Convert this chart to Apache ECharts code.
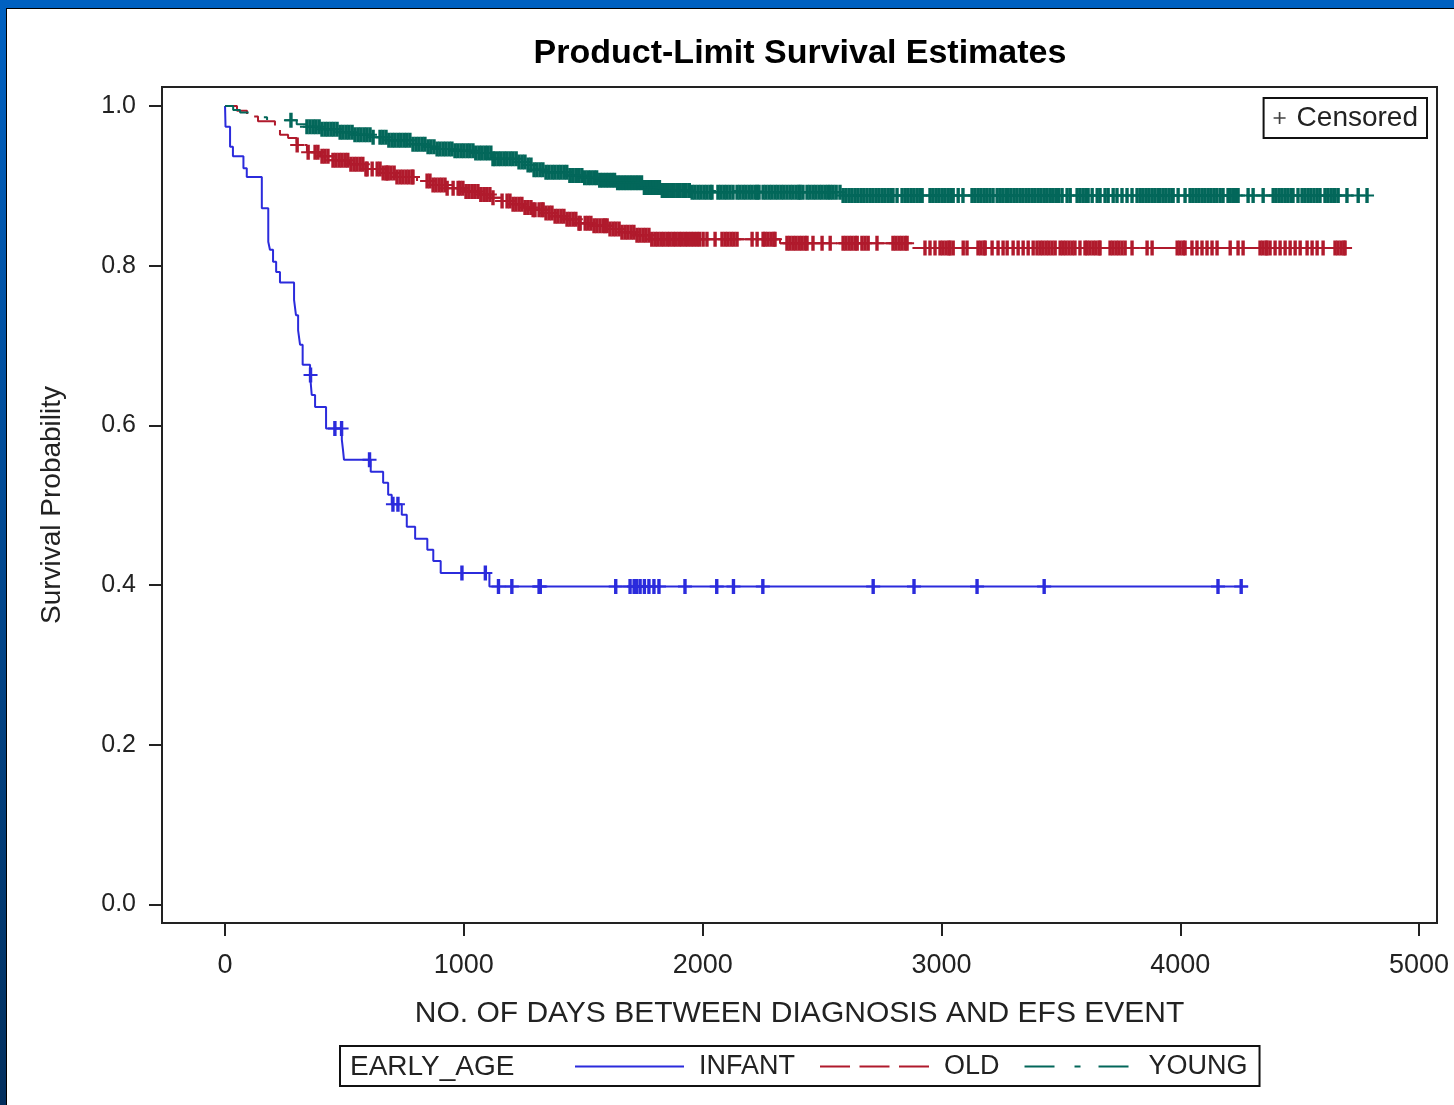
<!DOCTYPE html>
<html>
<head>
<meta charset="utf-8">
<title>Product-Limit Survival Estimates</title>
<script src="https://cdn.jsdelivr.net/npm/echarts@6/dist/echarts.min.js"></script>
<style>
html, body { margin: 0; padding: 0; background: #fff; }
#chart { width: 1454px; height: 1105px; }
</style>
</head>
<body>
<div id="chart"></div>
<script>
// 生存曲线: [天数, 生存概率]
var infantSteps = [[0,1.0],[2,0.974],[21,0.949],[33,0.937],[77,0.922],[91,0.911],[154,0.872],[181,0.830],[188,0.820],[201,0.805],[214,0.792],[230,0.779],[289,0.757],[297,0.738],[306,0.719],[314,0.701],[325,0.676],[356,0.663],[363,0.638],[377,0.623],[423,0.596],[489,0.582],[494,0.569],[498,0.557],[610,0.542],[662,0.528],[683,0.513],[698,0.501],[740,0.488],[761,0.473],[796,0.458],[847,0.444],[872,0.430],[903,0.415],[1107,0.398],[4284,0.398]];
var oldSteps = [[0,1.0],[50,0.994],[92,0.987],[138,0.981],[209,0.972],[230,0.964],[264,0.960],[300,0.951],[343,0.942],[398,0.937],[452,0.932],[523,0.927],[580,0.921],[650,0.916],[712,0.911],[804,0.906],[871,0.901],[930,0.897],[1000,0.893],[1060,0.889],[1110,0.885],[1160,0.881],[1206,0.877],[1250,0.873],[1290,0.870],[1340,0.866],[1382,0.862],[1430,0.858],[1474,0.853],[1540,0.850],[1612,0.846],[1660,0.842],[1720,0.838],[1780,0.833],[2324,0.828],[2869,0.822],[4719,0.822]];
var youngSteps = [[0,1.0],[34,0.995],[63,0.992],[117,0.986],[176,0.982],[300,0.977],[343,0.974],[398,0.971],[473,0.967],[540,0.964],[620,0.961],[680,0.957],[787,0.952],[850,0.949],[888,0.946],[960,0.944],[1040,0.941],[1122,0.934],[1223,0.930],[1260,0.926],[1290,0.920],[1340,0.917],[1432,0.913],[1500,0.910],[1560,0.907],[1642,0.904],[1750,0.898],[1822,0.894],[1947,0.892],[2588,0.888],[4782,0.888]];

// 删失时间 (天)
var infantCensored = [358,460,488,605,703,724,992,1090,1145,1201,1315,1320,1636,1696,1713,1723,1738,1756,1775,1796,1817,1926,2059,2129,2252,2714,2885,3149,3430,4158,4255];
var oldCensored = [302,348,377,389,406,418,431,452,464,477,489,502,514,527,540,552,565,577,590,595,616,637,649,662,674,678,683,695,708,720,733,745,758,770,783,787,846,858,871,883,896,908,921,930,955,976,984,996,1009,1021,1034,1046,1059,1071,1084,1096,1109,1122,1160,1181,1193,1206,1218,1231,1243,1256,1268,1281,1290,1298,1315,1327,1332,1344,1357,1369,1382,1394,1407,1419,1432,1444,1457,1469,1482,1487,1508,1520,1532,1545,1557,1570,1583,1591,1600,1612,1625,1637,1650,1662,1675,1687,1700,1712,1725,1737,1750,1762,1775,1787,1800,1812,1825,1837,1850,1862,1875,1887,1900,1912,1925,1937,1950,1962,1975,1987,2002,2018,2052,2081,2094,2106,2119,2131,2144,2207,2228,2253,2261,2273,2286,2298,2303,2353,2365,2378,2390,2403,2415,2428,2437,2462,2500,2534,2588,2600,2613,2625,2638,2647,2667,2680,2693,2730,2797,2809,2822,2834,2847,2856,2931,2952,2973,2994,3006,3019,3031,3036,3049,3091,3107,3153,3165,3178,3183,3212,3237,3258,3275,3300,3321,3342,3363,3384,3400,3413,3425,3438,3450,3463,3476,3497,3509,3521,3534,3547,3559,3580,3601,3610,3622,3635,3647,3660,3664,3706,3718,3731,3743,3756,3769,3798,3861,3882,3987,3999,4012,4020,4049,4070,4091,4112,4133,4154,4209,4242,4263,4334,4346,4359,4363,4376,4397,4418,4439,4460,4481,4502,4531,4552,4573,4598,4648,4660,4673,4685,4690];
var youngCensored = [276,343,356,369,381,394,406,419,431,444,456,469,482,494,507,519,532,544,557,569,582,594,607,620,649,661,674,686,699,711,724,736,749,761,774,787,800,812,825,837,850,862,875,888,900,913,925,938,950,963,975,988,1000,1013,1025,1038,1050,1063,1075,1088,1100,1113,1122,1131,1144,1156,1169,1181,1194,1206,1219,1231,1244,1256,1269,1281,1294,1306,1319,1331,1344,1356,1369,1381,1394,1406,1419,1431,1444,1456,1469,1481,1494,1506,1519,1531,1544,1556,1569,1581,1594,1606,1619,1631,1644,1656,1669,1681,1694,1706,1719,1731,1744,1756,1769,1781,1794,1806,1819,1831,1844,1856,1869,1881,1894,1906,1919,1931,1944,1956,1968,1981,1993,2006,2018,2031,2039,2064,2076,2089,2101,2114,2127,2144,2156,2169,2181,2194,2206,2219,2228,2236,2253,2265,2278,2290,2303,2315,2328,2340,2353,2366,2378,2391,2403,2408,2420,2437,2449,2462,2474,2487,2499,2512,2524,2534,2546,2559,2575,2588,2600,2613,2625,2638,2650,2663,2675,2688,2701,2713,2726,2738,2751,2763,2776,2788,2797,2814,2835,2848,2860,2873,2885,2898,2910,2919,2952,2964,2977,2989,3002,3014,3027,3039,3049,3070,3090,3128,3140,3153,3165,3178,3190,3203,3216,3233,3245,3257,3270,3279,3291,3304,3316,3329,3341,3354,3366,3379,3391,3404,3416,3429,3441,3454,3466,3479,3491,3505,3526,3539,3568,3580,3593,3605,3614,3631,3652,3664,3685,3698,3719,3735,3756,3777,3798,3819,3832,3844,3857,3869,3882,3894,3907,3915,3928,3940,3953,3965,3970,3991,4020,4041,4053,4066,4078,4091,4103,4116,4128,4141,4153,4167,4179,4200,4208,4220,4232,4242,4284,4305,4347,4389,4401,4414,4426,4439,4451,4464,4472,4493,4510,4522,4535,4547,4560,4573,4585,4606,4618,4631,4643,4648,4661,4698,4745,4782];

var xTicks = [0, 1000, 2000, 3000, 4000, 5000];
var yTicks = [0, 0.2, 0.4, 0.6, 0.8, 1.0];
var groups = ['INFANT', 'OLD', 'YOUNG'];

var FONT = '"Liberation Sans", Arial, sans-serif';
// 删失标记 "+", 竖线加粗一点让密集处连成一片
var PLUS = 'path://M5.3,0H8.7V6.5H14V8.5H8.7V15H5.3V8.5H0V6.5H5.3Z';
var PLUS_SMALL = 'path://M6,0H8V6H14V8H8V14H6V8H0V6H6Z';
var colors = ['#2b2bdc', '#b01a2c', '#03675a'];

// 删失点落在曲线上
function levelAt(steps, t) {
	var s = steps[0][1];
	for (var i = 0; i < steps.length; i++) {
		if (steps[i][0] <= t) s = steps[i][1];
	}
	return s;
}
function censorPoints(steps, times) {
	return times.map(function (t) { return [t, levelAt(steps, t)]; });
}

var chart = echarts.init(document.getElementById('chart'));

var stepData = [infantSteps, oldSteps, youngSteps];
var censorData = [infantCensored, oldCensored, youngCensored];
var dashes = ['solid', [30, 9.5], [30, 20, 6, 18]];

var series = [];
for (var g = 0; g < 3; g++) {
	series.push({
		name: groups[g],
		type: 'line',
		step: 'end',
		symbol: 'none',
		data: stepData[g],
		lineStyle: { color: colors[g], width: 2, type: dashes[g] },
		itemStyle: { color: colors[g] },
		z: 2 + g
	});
}
for (var g = 0; g < 3; g++) {
	series.push({
		name: groups[g] + ' censored',
		type: 'scatter',
		symbol: PLUS,
		symbolSize: [14, 15],
		data: censorPoints(stepData[g], censorData[g]),
		itemStyle: { color: colors[g], opacity: 1 },
		silent: true,
		z: 2 + g
	});
}
series.push({
	name: 'Censored',
	type: 'scatter',
	symbol: PLUS_SMALL,
	data: [],
	itemStyle: { color: '#111' }
});

var option = {
	animation: false,
	backgroundColor: '#fff',
	textStyle: { fontFamily: FONT },
	grid: {
		left: 162, top: 87, width: 1275, height: 836,
		show: true, borderColor: '#222', borderWidth: 2,
		outerBoundsMode: 'none'
	},
	xAxis: {
		type: 'value',
		min: -264, max: 5075,
		name: 'NO. OF DAYS BETWEEN DIAGNOSIS AND EFS EVENT',
		nameLocation: 'middle',
		nameGap: 76,
		nameTextStyle: { fontSize: 30, color: '#222' },
		axisLine: { onZero: false, lineStyle: { color: '#222', width: 2 } },
		axisTick: { length: 13, lineStyle: { color: '#222', width: 2 }, customValues: xTicks },
		axisLabel: {
			fontSize: 27, color: '#222', margin: 29, customValues: xTicks,
			formatter: function (v) { return String(v); }
		},
		splitLine: { show: false }
	},
	yAxis: {
		type: 'value',
		min: -0.0234, max: 1.0238,
		name: 'Survival Probability',
		nameLocation: 'middle',
		nameGap: 96,
		nameTextStyle: { fontSize: 28, color: '#222' },
		axisLine: { onZero: false, lineStyle: { color: '#222', width: 2 } },
		axisTick: { length: 13, lineStyle: { color: '#222', width: 2 }, customValues: yTicks },
		axisLabel: {
			fontSize: 25, color: '#222', margin: 26, customValues: yTicks,
			formatter: function (v) { return v.toFixed(1); }
		},
		splitLine: { show: false }
	},
	legend: [{
		data: groups,
		left: 340, top: 1046,
		orient: 'horizontal',
		padding: [7, 12, 6, 234],
		itemWidth: 109, itemHeight: 4, itemGap: 24,
		borderColor: '#111', borderWidth: 2,
		itemStyle: { opacity: 0 },
		textStyle: { fontSize: 27, color: '#222', padding: [0, 0, 0, 10] },
		selectedMode: false
	}, {
		data: [{ name: 'Censored', icon: PLUS_SMALL }],
		right: 27, top: 98,
		padding: [6, 9, 6, 10],
		itemWidth: 12, itemHeight: 12,
		borderColor: '#111', borderWidth: 2,
		textStyle: { fontSize: 28, color: '#222', padding: [0, 0, 0, 6] },
		selectedMode: false
	}],
	graphic: [
		{ type: 'rect', shape: { x: 0, y: 0, width: 1454, height: 8 }, style: { fill: '#0061c1' } },
		{ type: 'rect', shape: { x: 0, y: 0, width: 6, height: 1105 },
			style: { fill: new echarts.graphic.LinearGradient(0, 0, 0, 1, [{ offset: 0, color: '#0061c1' }, { offset: 1, color: '#022f5e' }]) } },
		{ type: 'rect', shape: { x: 6, y: 8, width: 1448, height: 1 }, style: { fill: '#000' } },
		{ type: 'rect', shape: { x: 6, y: 8, width: 1, height: 1097 }, style: { fill: '#000' } },
		{ type: 'text', x: 800, y: 54,
			style: { text: 'Product-Limit Survival Estimates', fontSize: 34, fontWeight: 'bold', fontFamily: FONT, fill: '#000', align: 'center', verticalAlign: 'middle' } },
		{ type: 'text', x: 350, y: 1067,
			style: { text: 'EARLY_AGE', fontSize: 28, fontFamily: FONT, fill: '#222', align: 'left', verticalAlign: 'middle' } }
	],
	series: series
};

chart.setOption(option);
window.onresize = chart.resize;
</script>
</body>
</html>
